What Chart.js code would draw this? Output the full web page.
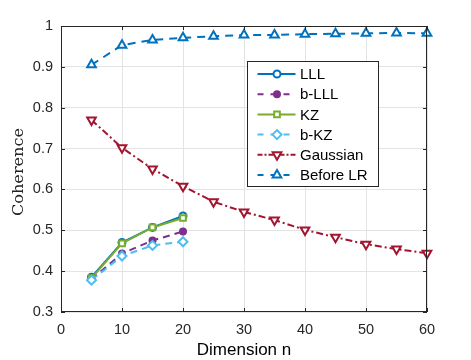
<!DOCTYPE html>
<html><head><meta charset="utf-8">
<script src="https://cdn.jsdelivr.net/npm/chart.js@4/dist/chart.umd.min.js"></script>
<style>html,body{margin:0;padding:0;background:#fff}#wrap{width:471px;height:360px}</style>
</head><body><div id="wrap"><canvas id="c" width="471" height="360"></canvas></div>
<script>
const xTicks=[0,10,20,30,40,50,60];
const yTicks=[0.3,0.4,0.5,0.6,0.7,0.8,0.9,1];
const dimShort=[5,10,15,20];
const dimLong=[5,10,15,20,25,30,35,40,45,50,55,60];
const lll=[0.385,0.470,0.507,0.535];
const bLll=[0.380,0.443,0.475,0.497];
const kz=[0.383,0.468,0.507,0.530];
const bKz=[0.378,0.437,0.463,0.472];
const gaussian=[0.770,0.702,0.650,0.608,0.570,0.545,0.525,0.501,0.483,0.466,0.454,0.444];
const beforeLR=[0.905,0.953,0.966,0.971,0.975,0.978,0.978,0.980,0.981,0.982,0.983,0.982];
const labels=['LLL','b-LLL','KZ','b-KZ','Gaussian','Before LR'];
const xTitle='Dimension n';
const yTitle='Coherence';

const pts=(xs,ys)=>xs.map((x,i)=>({x:x,y:ys[i]}));
const ds=[
 {label:labels[0],data:pts(dimShort,lll),borderColor:'#0072BD',pointStyle:'circle',pointRadius:3.5,pointBackgroundColor:'#fff',pointBorderColor:'#0072BD',borderDash:[],legDash:[],order:5},
 {label:labels[1],data:pts(dimShort,bLll),borderColor:'#7E2F8E',pointStyle:'circle',pointRadius:3,pointBackgroundColor:'#7E2F8E',pointBorderColor:'#7E2F8E',borderDash:[7,5],legDash:[6,7],order:4},
 {label:labels[2],data:pts(dimShort,kz),borderColor:'#77AC30',pointStyle:'rect',pointRadius:4,pointBackgroundColor:'#fff',pointBorderColor:'#77AC30',borderDash:[],legDash:[],order:3},
 {label:labels[3],data:pts(dimShort,bKz),borderColor:'#4DBEEE',pointStyle:'rectRot',pointRadius:4.5,pointBackgroundColor:'#fff',pointBorderColor:'#4DBEEE',borderDash:[7,5],legDash:[6,7],order:2},
 {label:labels[4],data:pts(dimLong,gaussian),borderColor:'#A2142F',pointStyle:'triangle',pointRotation:180,pointRadius:5,pointBackgroundColor:'#fff',pointBorderColor:'#A2142F',borderDash:[7,3,2,3],legDash:[5,2,2,2],order:1},
 {label:labels[5],data:pts(dimLong,beforeLR),borderColor:'#0072BD',pointStyle:'triangle',pointRadius:5,pointBackgroundColor:'#fff',pointBorderColor:'#0072BD',borderDash:[8,6],legDash:[6,7],order:0}
];
ds.forEach(d=>{d.borderWidth=2;d.pointBorderWidth=2;d.fill=false;d.tension=0;d.clip=false;});

const FONT='"Liberation Sans", Arial, sans-serif';
const SERIF='"DejaVu Serif","Liberation Serif",serif';
const boxPlugin={id:'box',afterDatasetsDraw(chart){
 const {ctx,chartArea:a,scales}=chart;
 ctx.save();
 ctx.strokeStyle='#262626';ctx.lineWidth=1;
 ctx.strokeRect(a.left+0.5,a.top+0.5,a.right-a.left-1,a.bottom-a.top-1);
 xTicks.forEach(v=>{const x=Math.round(scales.x.getPixelForValue(v))+0.5;
  ctx.beginPath();ctx.moveTo(x,a.bottom);ctx.lineTo(x,a.bottom-4);ctx.moveTo(x,a.top);ctx.lineTo(x,a.top+4);ctx.stroke();});
 yTicks.forEach(v=>{const y=Math.round(scales.y.getPixelForValue(v))+0.5;
  ctx.beginPath();ctx.moveTo(a.left,y);ctx.lineTo(a.left+4,y);ctx.moveTo(a.right,y);ctx.lineTo(a.right-4,y);ctx.stroke();});
 // axis titles
 ctx.fillStyle='#000';ctx.textAlign='center';ctx.textBaseline='middle';
 ctx.font='17px '+FONT;
 ctx.fillText(xTitle,(a.left+a.right)/2,350);
 ctx.save();
 ctx.translate(19,172);ctx.rotate(-Math.PI/2);
 ctx.font='15px '+SERIF;ctx.fillStyle='#222';
 const w=ctx.measureText(yTitle).width;ctx.scale(88/w,1);
 ctx.fillText(yTitle,0,0);
 ctx.restore();
 // legend
 const lx=247.5,ly=61.5,lw=131,lh=125,row=20.2;
 ctx.fillStyle='#fff';ctx.fillRect(lx,ly,lw,lh);ctx.strokeStyle='#262626';ctx.lineWidth=1;ctx.strokeRect(lx,ly,lw,lh);
 ctx.font='15px '+FONT;ctx.textBaseline='middle';ctx.textAlign='left';
 chart.data.datasets.forEach((d,i)=>{
  const yy=ly+12.5+i*row;
  ctx.save();ctx.strokeStyle=d.borderColor;ctx.lineWidth=2;ctx.setLineDash(d.legDash);
  ctx.beginPath();ctx.moveTo(lx+10,yy);ctx.lineTo(lx+48,yy);ctx.stroke();ctx.restore();
  ctx.save();ctx.fillStyle=d.pointBackgroundColor;ctx.strokeStyle=d.pointBorderColor;ctx.lineWidth=2;ctx.setLineDash([]);
  Chart.helpers.drawPoint(ctx,{pointStyle:d.pointStyle,rotation:d.pointRotation||0,radius:d.pointRadius,borderWidth:2},lx+29.5,yy);
  ctx.restore();
  ctx.fillStyle='#000';ctx.fillText(d.label,lx+52.5,yy+1);
 });
 ctx.restore();
}};

new Chart(document.getElementById('c'),{
 type:'line',
 data:{datasets:ds},
 options:{responsive:false,animation:false,
  layout:{padding:{left:0,right:44,top:26,bottom:0}},
  plugins:{legend:{display:false},tooltip:{enabled:false}},
  scales:{
   x:{type:'linear',min:0,max:60,afterBuildTicks:s=>{s.ticks=xTicks.map(v=>({value:v}));},
    afterFit:s=>{s.height=48;},
    grid:{color:'#e3e3e3',drawTicks:false},border:{display:false},
    ticks:{padding:9,color:'#262626',font:{family:FONT,size:14.5},maxRotation:0}},
   y:{type:'linear',min:0.3,max:1,afterBuildTicks:s=>{s.ticks=yTicks.map(v=>({value:v}));},
    afterFit:s=>{s.width=61;},
    grid:{color:'#e3e3e3',drawTicks:false},border:{display:false},
    ticks:{padding:8,color:'#262626',font:{family:FONT,size:14.5},callback:v=>(Math.round(v*10)/10).toString()}}
  }},
 plugins:[boxPlugin]
});
</script></body></html>
